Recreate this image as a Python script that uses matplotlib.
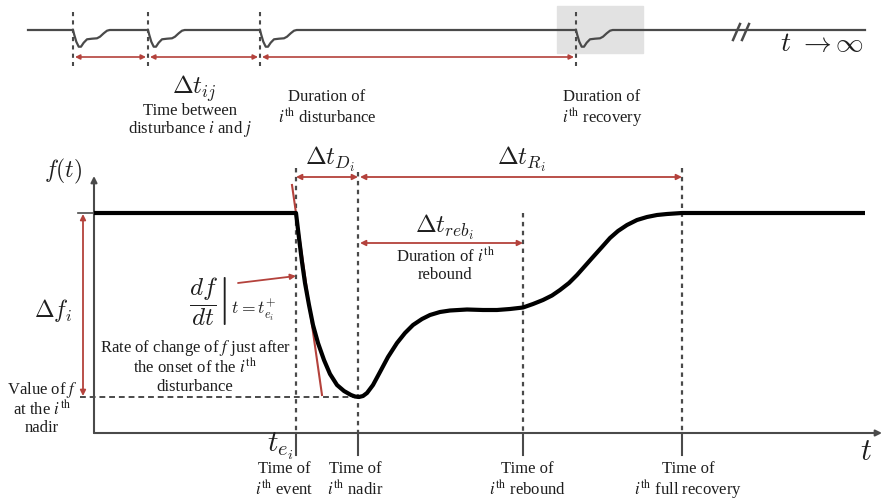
import numpy as np
import matplotlib.pyplot as plt
from matplotlib.patches import Rectangle

plt.rcParams['font.family'] = ['Liberation Serif', 'DejaVu Serif']
plt.rcParams['mathtext.fontset'] = 'stix'

# все координаты в пикселях картинки (y вниз)
# верхняя полоса: последовательность возмущений
strip_y = 30
strip_events = [73, 148, 260, 576]
dip_dx = [0, 1.3, 3.3, 5.7, 8, 10.7, 14, 19, 24, 27, 30.7, 34, 36.7]
dip_dy = [0, 5, 11.7, 16.7, 16.7, 12.7, 9.3, 8.7, 8.3, 6.7, 3.3, 0.7, 0]

# основной график: моменты времени и уровни f
t_event, t_nadir, t_rebound, t_recovery = 296, 358, 523, 682
f_base, f_nadir = 213, 397
x_axis_y, y_axis_x = 433, 94

curve_t = [94, 296, 299, 302, 305, 309, 313, 318, 324, 330, 337, 344, 351, 355, 359,
           363, 367, 373, 380, 388, 397, 405, 413, 422, 430, 440, 450, 467, 483, 497,
           510, 523, 533, 543, 552, 560, 569, 577, 585, 593, 602, 610, 618, 627,
           637, 647, 657, 667, 682, 865]
curve_f = [213, 213, 238, 262, 283, 305, 325, 343, 360, 374, 385, 391, 395, 396.5, 397,
           396, 393, 385, 372, 357, 343, 333, 325, 319, 315, 312, 310.5, 309.5, 310, 310,
           309, 307.5, 304, 300, 295.5, 290, 283, 275, 266, 257, 247, 238, 231, 225,
           220, 217, 215, 214, 213, 213]

RED = '#b4423c'
GREY = '#4a4a4a'
TXT = '#1e1e1e'

fig = plt.figure(figsize=(8.82, 5.0), dpi=100)
ax = fig.add_axes([0, 0, 1, 1])
ax.set_xlim(0, 882)
ax.set_ylim(500, 0)
ax.axis('off')


def arrow(x0, y0, x1, y1, style='<|-|>', color=RED, lw=1.3, ms=8):
    ax.annotate('', xy=(x1, y1), xytext=(x0, y0),
                arrowprops=dict(arrowstyle=style, color=color, lw=lw,
                                mutation_scale=ms, shrinkA=0, shrinkB=0))


def label(x, y, s, size=12, **kw):
    ax.text(x, y, s, ha='center', va='center', fontsize=size, color=TXT, **kw)


# ---- верхняя полоса ----
ax.add_patch(Rectangle((557, 6), 86, 47, color='#e2e2e2', zorder=0))
sx = [28]
sy = [strip_y]
for e in strip_events:
    sx += [e + d for d in dip_dx]
    sy += [strip_y + d for d in dip_dy]
sx.append(865)
sy.append(strip_y)
ax.plot(sx, sy, color=GREY, lw=1.6, zorder=2)
for e in strip_events:
    ax.plot([e, e], [12, 66], color=GREY, lw=1.5, ls=(0, (2, 2)))
for a, b in zip(strip_events[:-1], strip_events[1:]):
    arrow(a + 2, 57, b - 2, 57, ms=7, lw=1.2)
for bx in (733, 742):
    ax.plot([bx, bx + 7], [40, 24], color=GREY, lw=1.8)
label(822, 45, r'$t\ \rightarrow\infty$', size=20, math_fontfamily='cm')

label(194, 89, r'$\Delta t_{ij}$', size=18, math_fontfamily='cm')
label(190, 111, 'Time between')
label(190, 129, r'disturbance $i$ and $j$')
label(327, 97, 'Duration of')
label(327, 117, r'$i^{\rm th}$ disturbance')
label(602, 97, 'Duration of')
label(602, 117, r'$i^{\rm th}$ recovery')

# ---- оси ----
arrow(y_axis_x, x_axis_y, y_axis_x, 176, style='-|>', color=GREY, lw=1.5, ms=9)
arrow(y_axis_x, x_axis_y, 882, x_axis_y, style='-|>', color=GREY, lw=1.5, ms=9)
ax.plot([78, y_axis_x], [f_base, f_base], color=GREY, lw=1.2)
for t in (t_event, t_nadir, t_rebound, t_recovery):
    ax.plot([t, t], [x_axis_y, 455], color=GREY, lw=1.5)

# пунктирные вертикали
ax.plot([t_event, t_event], [168, x_axis_y], color=GREY, lw=1.6, ls=(0, (2, 2)))
ax.plot([t_nadir, t_nadir], [172, x_axis_y], color=GREY, lw=1.6, ls=(0, (2, 2)))
ax.plot([t_rebound, t_rebound], [213, x_axis_y], color=GREY, lw=1.6, ls=(0, (2, 2)))
ax.plot([t_recovery, t_recovery], [168, x_axis_y], color=GREY, lw=1.6, ls=(0, (2, 2)))
ax.plot([80, t_nadir], [f_nadir, f_nadir], color=GREY, lw=1.4, ls=(0, (3, 2)))

# кривая f(t)
ax.plot(curve_t, curve_f, color='black', lw=3, solid_capstyle='butt',
        solid_joinstyle='round', zorder=4)
# касательная
ax.plot([292, 322], [185, 395], color=RED, lw=1.5, zorder=3)

# стрелки интервалов
arrow(t_event, 177, t_nadir, 177)
arrow(t_nadir + 2, 177, t_recovery, 177)
arrow(t_nadir + 2, 243, t_rebound, 243)
arrow(83, f_base + 1, 83, f_nadir - 1)
arrow(238, 283, t_event, 276, style='-|>')

# подписи основного графика
label(63, 171, r'$f(t)$', size=17, math_fontfamily='cm')
label(330, 159, r'$\Delta t_{D_i}$', size=18, math_fontfamily='cm')
label(521, 159, r'$\Delta t_{R_i}$', size=18, math_fontfamily='cm')
label(445, 227, r'$\Delta t_{reb_i}$', size=18, math_fontfamily='cm')
label(445, 256, r'Duration of $i^{\rm th}$')
label(445, 275, 'rebound')
label(53, 310, r'$\Delta f_i$', size=17, math_fontfamily='cm')
ax.text(189, 301, r'$\left.\dfrac{df}{dt}\right|_{t=t_{e_i}^{+}}$', ha='left', va='center',
        fontsize=18, color=TXT, math_fontfamily='cm')
label(195, 348, r'Rate of change of $f$ just after')
label(195, 367, r'the onset of the $i^{\rm th}$')
label(195, 387, 'disturbance')
label(42, 390, r'Value of $f$')
label(42, 409, r'at the $i^{\rm th}$')
label(42, 428, 'nadir')

ax.text(293, 446, r'$t_{e_i}$', ha='right', va='center', fontsize=21, color=TXT,
        math_fontfamily='cm')
label(866, 453, r'$t$', size=22, math_fontfamily='cm')
for x, name in ((284, 'event'), (355, 'nadir'), (527, 'rebound'), (688, 'full recovery')):
    label(x, 469, 'Time of')
    label(x, 489, r'$i^{\rm th}$ ' + name)

fig.savefig('out.png', dpi=100)
